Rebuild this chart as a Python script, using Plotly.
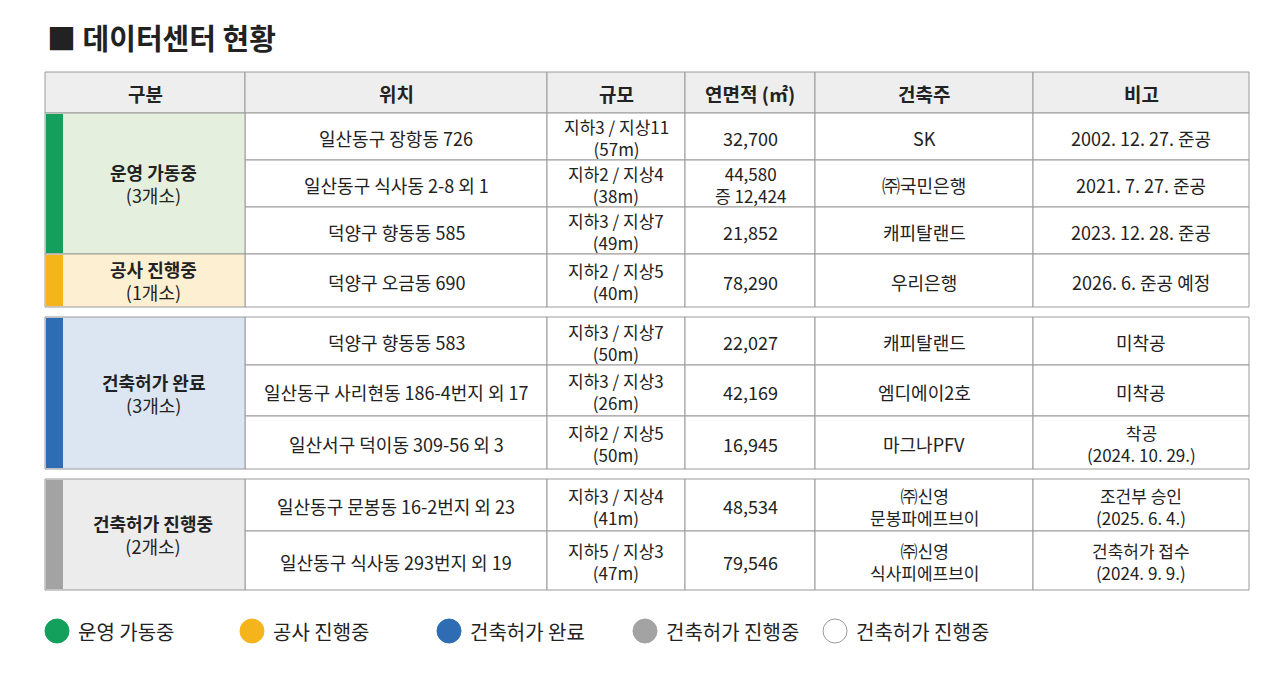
import plotly.graph_objects as go

# ---- data ----
title = "■ 데이터센터 현황"
headers = ["구분", "위치", "규모", "연면적 (㎡)", "건축주", "비고"]
group_names = ["운영 가동중<br>(3개소)", "공사 진행중<br>(1개소)", "건축허가 완료<br>(3개소)", "건축허가 진행중<br>(2개소)"]
group_rows = [3, 1, 3, 2]
locations = ["일산동구 장항동 726", "일산동구 식사동 2-8 외 1", "덕양구 향동동 585", "덕양구 오금동 690",
             "덕양구 향동동 583", "일산동구 사리현동 186-4번지 외 17", "일산서구 덕이동 309-56 외 3",
             "일산동구 문봉동 16-2번지 외 23", "일산동구 식사동 293번지 외 19"]
scales = ["지하3 / 지상11<br>(57m)", "지하2 / 지상4<br>(38m)", "지하3 / 지상7<br>(49m)", "지하2 / 지상5<br>(40m)",
          "지하3 / 지상7<br>(50m)", "지하3 / 지상3<br>(26m)", "지하2 / 지상5<br>(50m)",
          "지하3 / 지상4<br>(41m)", "지하5 / 지상3<br>(47m)"]
areas = ["32,700", "44,580<br>증 12,424", "21,852", "78,290", "22,027", "42,169", "16,945", "48,534", "79,546"]
builders = ["SK", "㈜국민은행", "캐피탈랜드", "우리은행", "캐피탈랜드", "엠디에이2호", "마그나PFV",
            "㈜신영<br>문봉파에프브이", "㈜신영<br>식사피에프브이"]
notes = ["2002. 12. 27. 준공", "2021. 7. 27. 준공", "2023. 12. 28. 준공", "2026. 6. 준공 예정",
         "미착공", "미착공", "착공<br>(2024. 10. 29.)", "조건부 승인<br>(2025. 6. 4.)", "건축허가 접수<br>(2024. 9. 9.)"]
legend_labels = ["운영 가동중", "공사 진행중", "건축허가 완료", "건축허가 진행중", "건축허가 진행중"]

# ---- style / layout ----
bar_colors = ["#12a05c", "#f5b31c", "#2e6db4", "#a3a3a3"]
fill_colors = ["#e4f0dd", "#fdf0d2", "#dce6f3", "#ececec"]
legend_colors = ["#12a05c", "#f5b31c", "#2e6db4", "#a3a3a3", "#ffffff"]
legend_x = [57, 252, 449, 645, 835]
col_x = [45, 245, 547, 685, 815, 1033, 1249]
row_bounds = [(113, 160), (160, 207), (207, 254), (254, 307),
              (317, 365), (365, 416), (416, 469), (479, 531), (531, 590)]
FONT = "Noto Sans CJK KR"
border = "#9a9a9a"

shapes, ann = [], []

def cell(x0, y0, x1, y1, fill="white"):
    shapes.append(dict(type="rect", x0=x0, x1=x1, y0=y0, y1=y1, fillcolor=fill,
                       line=dict(color=border, width=1), layer="below"))

def text(x, y, t, size=18, anchor="center"):
    ann.append(dict(x=x, y=y, text=t, showarrow=False, xanchor=anchor, yanchor="middle",
                    font=dict(family=FONT, size=size, color="#222")))

# header
for i, h in enumerate(headers):
    cell(col_x[i], 72, col_x[i + 1], 113, "#eeeeee")
    text((col_x[i] + col_x[i + 1]) / 2, 93, "<b>" + h + "</b>", 19)

# rows
cols = [locations, scales, areas, builders, notes]
for r, (y0, y1) in enumerate(row_bounds):
    for c in range(5):
        cell(col_x[c + 1], y0, col_x[c + 2], y1)
        t = cols[c][r]
        sz = 17 if "<br>" in t else 18
        text((col_x[c + 1] + col_x[c + 2]) / 2, (y0 + y1) / 2 + 1, t, sz)

# group cells
r = 0
for g, n in enumerate(group_rows):
    y0 = row_bounds[r][0]
    y1 = row_bounds[r + n - 1][1]
    cell(col_x[0], y0, col_x[1], y1, fill_colors[g])
    shapes.append(dict(type="rect", x0=col_x[0] + 1, x1=col_x[0] + 18, y0=y0 + 1, y1=y1 - 1,
                       fillcolor=bar_colors[g], line=dict(width=0)))
    name = "<b>" + group_names[g].replace("<br>", "</b><br>")
    text((col_x[0] + col_x[1]) / 2 + 8, (y0 + y1) / 2, name, 18)
    r += n

# legend
for i, lab in enumerate(legend_labels):
    shapes.append(dict(type="circle", x0=legend_x[i] - 12, x1=legend_x[i] + 12, y0=619, y1=643,
                       fillcolor=legend_colors[i], line=dict(color="#999" if i == 4 else legend_colors[i], width=1)))
    text(legend_x[i] + 19, 631, lab, 20, anchor="left")

ann.append(dict(x=45, y=37, text="<b>" + title + "</b>", showarrow=False, xanchor="left", yanchor="middle",
                font=dict(family=FONT, size=29, color="#222")))

# page body has an 8px margin; offset the ranges to compensate
fig = go.Figure()
fig.update_layout(width=1280, height=682, margin=dict(l=0, r=0, t=0, b=0),
                  paper_bgcolor="white", plot_bgcolor="white",
                  xaxis=dict(range=[8, 1288], visible=False, fixedrange=True),
                  yaxis=dict(range=[690, 8], visible=False, fixedrange=True),
                  shapes=shapes, annotations=ann, showlegend=False)
fig.write_html("out.html")
